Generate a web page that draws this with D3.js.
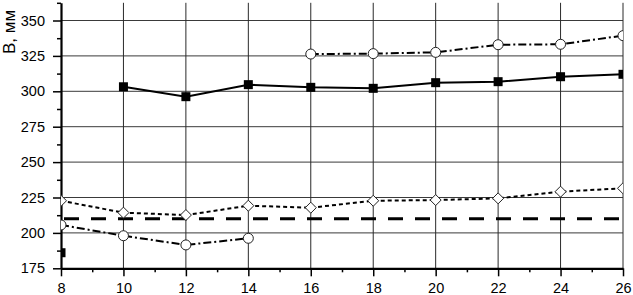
<!DOCTYPE html>
<html>
<head>
<meta charset="utf-8">
<script src="https://cdn.jsdelivr.net/npm/d3@7"></script>
<style>
  body { margin: 0; background: #fff; }
  text { font-family: Arial, "Liberation Sans", sans-serif; }
</style>
</head>
<body>
<div id="chart"></div>
<script>
// data
var xTicks = [8, 10, 12, 14, 16, 18, 20, 22, 24, 26]
var yTicks = [175, 200, 225, 250, 275, 300, 325, 350]

var squaresX = [10, 12, 14, 16, 18, 20, 22, 24, 26]
var squaresY = [303.2, 296.2, 304.7, 302.8, 302.1, 306.1, 306.8, 310.3, 312]
var strayX = [8]
var strayY = [186]

var upperX = [16, 18, 20, 22, 24, 26]
var upperY = [326.3, 326.6, 327.5, 332.9, 333.2, 339.3]

var lowerX = [8, 10, 12, 14]
var lowerY = [205.6, 198, 191.5, 196.2]

var diamondX = [8, 10, 12, 14, 16, 18, 20, 22, 24, 26]
var diamondY = [222.7, 214.3, 212.6, 219.2, 217.8, 222.7, 223.2, 224.4, 229.1, 231.5]

var limitValue = 210

var width = 633
var height = 295

var svg = d3.select("#chart")
  .append("svg")
    .attr("width", width)
    .attr("height", height)

var x = d3.scaleLinear().domain([8, 26]).range([61, 623])
var y = d3.scaleLinear().domain([175, 362.5]).range([268.3, 2.8])

function pts(xs, ys) {
  return xs.map(function(v, i) { return [v, ys[i]] })
}

// clip to the plot area
svg.append("clipPath").attr("id", "plot")
  .append("rect")
    .attr("x", x(8)).attr("y", y(362.5))
    .attr("width", x(26) - x(8)).attr("height", y(175) - y(362.5))

// grid
svg.append("g").selectAll("line")
  .data(yTicks.slice(1))
  .enter().append("line")
    .attr("x1", x(8)).attr("x2", x(26))
    .attr("y1", function(d) { return y(d) }).attr("y2", function(d) { return y(d) })
    .attr("stroke", "#3a3a3a").attr("stroke-width", 1)
svg.append("g").selectAll("line")
  .data(xTicks.slice(1))
  .enter().append("line")
    .attr("x1", function(d) { return x(d) }).attr("x2", function(d) { return x(d) })
    .attr("y1", y(175)).attr("y2", y(362.5))
    .attr("stroke", "#2a2a2a").attr("stroke-width", 1)

// minor ticks
var xMinor = d3.range(9, 26, 2)
var yMinor = d3.range(187.5, 362.6, 25)
svg.append("g").attr("transform", "translate(0," + y(175) + ")")
  .call(d3.axisBottom(x).tickValues(xMinor).tickSize(4).tickFormat(""))
  .call(function(g) { g.select(".domain").remove() })
  .selectAll("line").attr("stroke-width", 1.5)
svg.append("g").attr("transform", "translate(" + x(8) + ",0)")
  .call(d3.axisLeft(y).tickValues(yMinor).tickSize(4).tickFormat(""))
  .call(function(g) { g.select(".domain").remove() })
  .selectAll("line").attr("stroke-width", 1.5)

// major axes
var xAxis = svg.append("g").attr("transform", "translate(0," + y(175) + ")")
  .call(d3.axisBottom(x).tickValues(xTicks).tickSize(8).tickSizeOuter(0).tickPadding(6))
var yAxis = svg.append("g").attr("transform", "translate(" + x(8) + ",0)")
  .call(d3.axisLeft(y).tickValues(yTicks).tickSize(8).tickSizeOuter(0).tickPadding(8))
;[xAxis, yAxis].forEach(function(g) {
  g.select(".domain").attr("stroke-width", 2.2)
  g.selectAll(".tick line").attr("stroke-width", 1.5)
  g.selectAll("text").attr("font-size", 14.5).attr("fill", "#000")
    .style("font-family", "Arial, 'Liberation Sans', sans-serif")
})

// axis title
svg.append("text")
  .attr("transform", "translate(15,54) rotate(-90)")
  .attr("font-size", 17)
  .text("B, мм")

var plot = svg.append("g").attr("clip-path", "url(#plot)")
var line = d3.line().x(function(d) { return x(d[0]) }).y(function(d) { return y(d[1]) })

// limit line
plot.append("line")
  .attr("x1", x(8)).attr("x2", x(26))
  .attr("y1", y(limitValue)).attr("y2", y(limitValue))
  .attr("stroke", "#000").attr("stroke-width", 3)
  .attr("stroke-dasharray", "15,12")
  .attr("stroke-dashoffset", -3)

// lines
plot.append("path").datum(pts(squaresX, squaresY))
  .attr("d", line).attr("fill", "none").attr("stroke", "#000").attr("stroke-width", 2)
plot.append("path").datum(pts(upperX, upperY))
  .attr("d", line).attr("fill", "none").attr("stroke", "#000").attr("stroke-width", 2)
  .attr("stroke-dasharray", "8,3,2,3")
plot.append("path").datum(pts(lowerX, lowerY))
  .attr("d", line).attr("fill", "none").attr("stroke", "#000").attr("stroke-width", 2)
  .attr("stroke-dasharray", "8,3,2,3")
plot.append("path").datum(pts(diamondX, diamondY))
  .attr("d", line).attr("fill", "none").attr("stroke", "#000").attr("stroke-width", 2)
  .attr("stroke-dasharray", "4,3")

// markers
plot.selectAll(".sq")
  .data(pts(squaresX, squaresY).concat(pts(strayX, strayY)))
  .enter().append("rect")
    .attr("x", function(d) { return x(d[0]) - 4.5 })
    .attr("y", function(d) { return y(d[1]) - 4.5 })
    .attr("width", 9).attr("height", 9)
    .attr("fill", "#000")
plot.selectAll(".circ")
  .data(pts(upperX, upperY).concat(pts(lowerX, lowerY)))
  .enter().append("circle")
    .attr("cx", function(d) { return x(d[0]) })
    .attr("cy", function(d) { return y(d[1]) })
    .attr("r", 5)
    .attr("fill", "#fff").attr("stroke", "#222").attr("stroke-width", 1)
plot.selectAll(".dia")
  .data(pts(diamondX, diamondY))
  .enter().append("path")
    .attr("transform", function(d) { return "translate(" + x(d[0]) + "," + y(d[1]) + ")" })
    .attr("d", "M0,-5.5L5.5,0L0,5.5L-5.5,0Z")
    .attr("fill", "#fff").attr("stroke", "#222").attr("stroke-width", 1)
</script>
</body>
</html>
